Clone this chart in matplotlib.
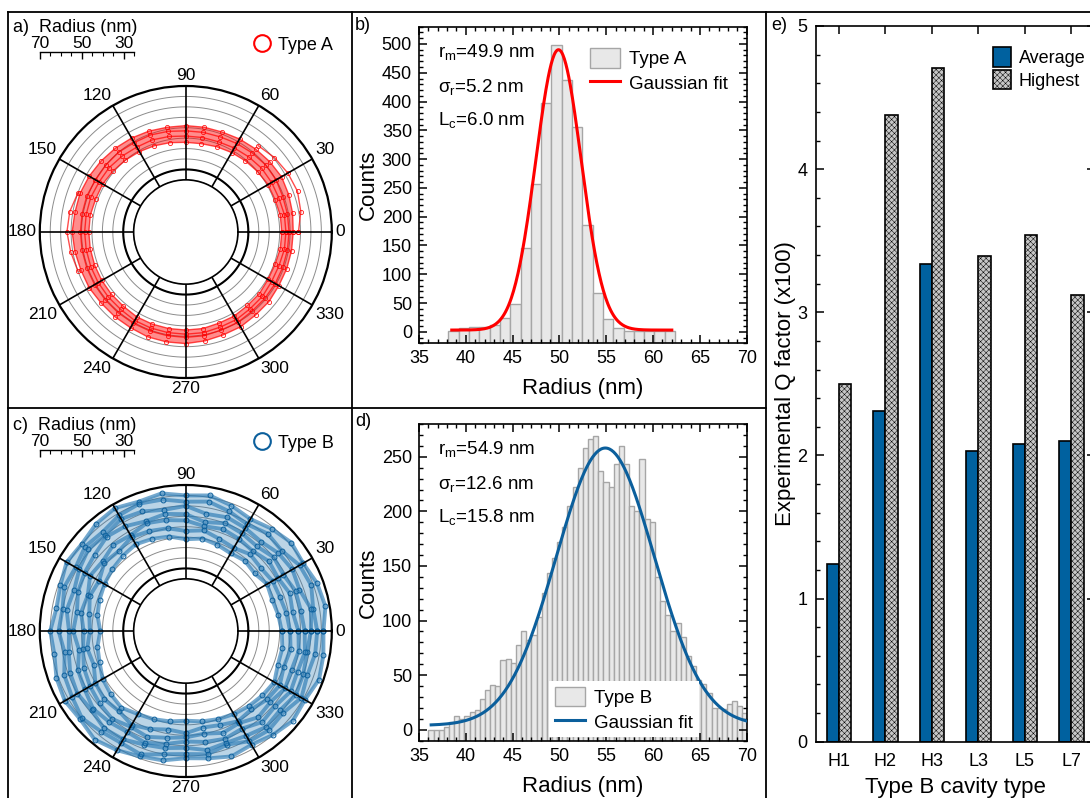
import numpy as np
import matplotlib

matplotlib.use("Agg")
import matplotlib.pyplot as plt
from matplotlib.lines import Line2D
from matplotlib.ticker import MultipleLocator

plt.rcParams.update({
    "font.family": ["Liberation Sans", "DejaVu Sans"],
    "mathtext.fontset": "custom",
    "mathtext.rm": "Liberation Sans",
    "mathtext.it": "Liberation Sans:italic",
    "hatch.linewidth": 0.35,
    "hatch.color": "#8a8a8a",
    "axes.linewidth": 1.2,
})

W, H = 1090, 798
RED = "#ff0000"
BLUE_PTS = "#2a7ab4"
BLUE_FIT = "#0b5f9c"
BLUE_BAR = "#00619f"
BAR_FACE = "#e8e8e8"
BAR_EDGE = "#a6a6a6"

# ---------------------------------------------------------------- data
# polar traces: radius (nm) at every 10 degrees, read off panels a) and c)
THETA_DEG = list(range(0, 360, 10))
nan = np.nan
A_TRACES = [
    [46, 46, 45.5, 45.5, 45, 44.5, 44, 43.5, 43, 43, 43.5, 44, 44.5, 45, 45.5, 46, 46, 46.5,
     46.5, 46.5, 46.5, 46.5, 46.5, 46.5, 47, 47, 47, 47, 47, 46.5, 46.5, 46, 46, 45.5, 45.5, 46],
    [48, 48, 47.5, 47.5, 47.5, 47, 46.5, 46, 46, 46, 46.5, 47, 47, 47.5, 48, 48, 48.5, 48.5,
     48.5, 48.5, 48.5, 48.5, 48.5, 48.5, 49, 49, 49, 49, 49, 48.5, 48.5, 48, 48, 47.5, 47.5, 48],
    [49.5, 49.5, 49.5, 50, 50, 49.5, 49, 48.5, 48.5, 48.5, 49, 49.5, 49.5, 50, 50, 50, 50.5, 50.5,
     50.5, 50.5, 50.5, 50.5, 50.5, 50.5, 50.5, 50.5, 50.5, 50.5, 50.5, 50, 50, 49.5, 49.5, 49.5, 49.5, 49.5],
    [51.5, 52, 52.5, 53, 52.5, 52, 51.5, 51, 51, 51, 51, 51.5, 52, 52.5, 53, 53.5, 54, 54,
     54.5, 54, 53.5, 53.5, 53, 53, 53, 53.5, 53.5, 53.5, 53, 52.5, 52.5, 52, 52, 51.5, 51.5, 51.5],
    [54, 56, 57, 56.5, 55.5, 54, nan, nan, nan, nan, nan, nan, nan, nan, nan, nan, 55, 56.5,
     57, 56, 55, nan, nan, nan, nan, nan, nan, nan, nan, nan, nan, nan, nan, nan, nan, nan],
]
B_TRACES = [
    [66, 68, 67, 65, 66, 64, 62, 64, 66, 65, 67, 66, 68, 67, 65, 66, 64, 63,
     65, 64, 66, 67, 66, 68, 66, 64, 63, 61, 62, 64, 63, 65, 67, 66, 68, 67],
    [63, 62, 64, 63, 60, 61, 59, 61, 63, 62, 64, 65, 64, 62, 63, 61, 62, 60,
     61, 59, 62, 63, 65, 63, 62, 63, 60, 59, 60, 58, 61, 62, 61, 64, 62, 63],
    [60, 61, 58, 59, 58, 56, 57, 58, 57, 60, 59, 61, 62, 60, 61, 59, 57, 58,
     56, 57, 59, 60, 59, 61, 60, 58, 57, 56, 58, 57, 58, 60, 59, 61, 60, 59],
    [57, 56, 56, 54, 55, 53, 54, 55, 53, 56, 57, 56, 58, 59, 57, 56, 55, 53,
     54, 52, 55, 56, 58, 57, 56, 57, 55, 53, 54, 55, 54, 57, 56, 58, 57, 58],
    [54, 52, 53, 51, 52, 50, 51, 52, 51, 53, 54, 55, 53, 54, 52, 53, 50, 51,
     49, 50, 52, 53, 54, 55, 53, 54, 52, 51, 50, 52, 51, 54, 53, 55, 54, 55],
    [50, 49, 48, 48, 47, 48, 46, 47, 49, 48, 50, 51, 52, 50, 51, 48, 49, 47,
     46, 48, 47, 50, 51, 50, 52, 50, 48, 49, 47, 48, 50, 49, 51, 52, 50, 51],
    [46, 45, 44, 45, 43, 44, 43, 44, 45, 44, 46, 47, 48, 47, 46, 45, 44, 43,
     41, 43, 44, 46, 47, 48, 46, 45, 44, 43, 44, 45, 46, 47, 48, 49, 47, 47],
]

# histogram b) (type A): bins of 1.1 nm starting at 38.15 nm
A_BIN_START, A_BIN_WIDTH = 38.15, 1.1
A_COUNTS = [1, 6, 9, 9, 12, 24, 49, 146, 256, 398, 499, 438, 356, 185, 68, 23, 6, 2, 2, 1, 1, 1]
A_FIT = dict(xc=49.9, w=2.42, amp=487, y0=3, x0=38.5, x1=62.0)

# histogram d) (type B): bins of 0.55 nm starting at 36.0 nm
B_BIN_START, B_BIN_WIDTH = 36.0, 0.55
B_COUNTS = [0, 0, 0, 3, 7, 13, 10, 13, 16, 18, 28, 36, 41, 40, 64, 65, 61, 78, 90, 82,
            87, 103, 125, 144, 157, 172, 186, 205, 222, 240, 258, 266, 269, 237, 227, 222,
            243, 260, 243, 205, 200, 248, 193, 190, 140, 118, 105, 90, 98, 85, 68, 58,
            46, 42, 34, 20, 20, 19, 24, 26, 22, 15]
B_FIT = dict(xc=54.9, w=5.25, amp=254, y0=4, x0=36.3, x1=70.0)

# panel e)
CAVITIES = ["H1", "H2", "H3", "L3", "L5", "L7"]
Q_AVERAGE = [1.24, 2.31, 3.34, 2.03, 2.08, 2.10]
Q_HIGHEST = [2.50, 4.38, 4.71, 3.39, 3.54, 3.12]


def px(x0, y0, x1, y1):
    """figure-fraction rect from pixel box (top-left origin)"""
    return [x0 / W, 1 - y1 / H, (x1 - x0) / W, (y1 - y0) / H]


fig = plt.figure(figsize=(W / 100, H / 100), dpi=100)


# ---------------------------------------------------------------- polar panels
def polar_panel(box, traces, color, kind):
    ax = fig.add_axes(box, projection="polar")
    ax.set_rlim(25, 70)
    ax.set_rorigin(0)
    ax.grid(False)
    ax.set_xticks([])
    ax.set_yticks([])
    ax.spines["polar"].set_linewidth(1.6)
    ax.spines["inner"].set_visible(False)
    tc = np.linspace(0, 2 * np.pi, 361)
    for r in range(25, 70, 5):
        ax.plot(tc, np.full_like(tc, r), color="#8c8c8c", lw=0.7, zorder=1)
    th = np.deg2rad(THETA_DEG + [THETA_DEG[0]])
    # band spanned by innermost / outermost trace
    hi_tr = traces[3] if kind == "A" else traces[0]
    lo_tr = traces[0] if kind == "A" else traces[-1]
    lo = np.array(list(lo_tr) + [lo_tr[0]], float)
    hi = np.array(list(hi_tr) + [hi_tr[0]], float)
    ax.fill(np.concatenate([th, th[::-1]]), np.concatenate([hi, lo[::-1]]),
            color=color, alpha=0.45 if kind == "A" else 0.32, lw=0, zorder=1.5)
    for tr in traces:
        rr = list(tr) + [tr[0]]
        if kind == "A":
            ax.plot(th, rr, color=color, lw=1.0, alpha=0.7, zorder=2)
            ax.plot(th, rr, ls="none", marker="o", ms=3, mfc="none", mec=color,
                    mew=0.6, alpha=0.9, zorder=2)
        else:
            ax.plot(th, rr, color=color, lw=2.8, alpha=0.65, zorder=2)
            ax.plot(th, rr, ls="none", marker="o", ms=3.5, mfc="none", mec=BLUE_FIT,
                    mew=0.7, zorder=2)
    ax.plot(tc, np.full_like(tc, 30), color="black", lw=1.5, zorder=3)
    for a in range(0, 360, 30):
        t = np.deg2rad(a)
        ax.plot([t, t], [25, 70], color="black", lw=1.2, zorder=3)
        c, s = np.cos(t), np.sin(t)
        ha = "center" if abs(c) < 0.1 else ("left" if c > 0 else "right")
        va = "center" if abs(s) < 0.1 else ("bottom" if s > 0 else "top")
        ax.text(t, 71.5, str(a), ha=ha, va=va, fontsize=12.5, clip_on=False)
    return ax


def radius_bar(y_px):
    bx = fig.add_axes(px(40, y_px - 8, 134, y_px))
    bx.set_xlim(70, 25)
    bx.set_ylim(0, 1)
    for k in ("left", "right", "bottom"):
        bx.spines[k].set_visible(False)
    bx.spines["top"].set_linewidth(1.0)
    bx.set_yticks([])
    bx.xaxis.set_ticks_position("top")
    bx.xaxis.set_label_position("top")
    bx.set_xticks([70, 50, 30])
    bx.xaxis.set_minor_locator(MultipleLocator(5))
    bx.tick_params(axis="x", which="major", direction="in", length=5, width=1,
                   pad=1, labelsize=12.5)
    bx.tick_params(axis="x", which="minor", direction="in", length=3, width=0.8)
    bx.patch.set_visible(False)


def type_legend(ax, label, color, y_px):
    ax.legend(handles=[Line2D([], [], ls="none", marker="o", ms=12, mfc="none", mec=color, mew=1.5)],
              labels=[label], loc="center left", bbox_to_anchor=(254 / W, 1 - y_px / H),
              bbox_transform=fig.transFigure, frameon=False, fontsize=13, handlelength=0.9,
              handletextpad=0.45, borderaxespad=0, borderpad=0)


pa = polar_panel(px(39.8, 86, 331.8, 378), A_TRACES, RED, "A")
radius_bar(60)
fig.text(13 / W, 1 - 27 / H, "a)  Radius (nm)", fontsize=13, va="center")
type_legend(pa, "Type A", RED, 45)

pc = polar_panel(px(39.8, 485, 331.8, 777), B_TRACES, BLUE_PTS, "B")
radius_bar(458)
fig.text(13 / W, 1 - 426 / H, "c)  Radius (nm)", fontsize=13, va="center")
type_legend(pc, "Type B", BLUE_FIT, 443)


# ---------------------------------------------------------------- histograms
def style_hist(ax, ylim, ymajor, yminor):
    ax.set_xlim(35, 70)
    ax.set_ylim(*ylim)
    ax.xaxis.set_major_locator(MultipleLocator(5))
    ax.xaxis.set_minor_locator(MultipleLocator(1))
    ax.yaxis.set_major_locator(MultipleLocator(ymajor))
    ax.yaxis.set_minor_locator(MultipleLocator(yminor))
    ax.tick_params(which="both", direction="in", top=True, right=True, labelsize=13)
    ax.tick_params(which="major", length=6, width=1.1, pad=5)
    ax.tick_params(which="minor", length=3, width=1.0)
    ax.set_xlabel("Radius (nm)", fontsize=16, labelpad=8)
    ax.set_ylabel("Counts", fontsize=16, labelpad=2)


def hist_panel(box, start, width, counts, fit, color, ylim, ymajor, yminor, label):
    ax = fig.add_axes(box)
    edges = start + width * np.arange(len(counts) + 1)
    centers = (edges[:-1] + edges[1:]) / 2
    cnt = np.array(counts, float)
    bars = ax.bar(centers, cnt - ylim[0], width, bottom=ylim[0], color=BAR_FACE,
                  edgecolor=BAR_EDGE, lw=1.0, zorder=1)
    xf = np.linspace(fit["x0"], fit["x1"], 300)
    yf = fit["y0"] + fit["amp"] * np.exp(-(xf - fit["xc"]) ** 2 / (2 * fit["w"] ** 2))
    (ln,) = ax.plot(xf, yf, color=color, lw=2.2, zorder=3)
    style_hist(ax, ylim, ymajor, yminor)
    return ax, [bars, ln], [label, "Gaussian fit"]


pb, hb, lb = hist_panel(px(419, 26.7, 746.7, 343.3), A_BIN_START, A_BIN_WIDTH, A_COUNTS, A_FIT,
                        RED, (-20, 530), 50, 10, "Type A")
pb.legend(hb, lb, loc="upper right", bbox_to_anchor=(0.995, 0.985), frameon=False, fontsize=13.5,
          handlelength=1.6, handleheight=1.2, handletextpad=0.5, labelspacing=0.25)
for txt, yy in [(r"r$_\mathrm{m}$=49.9 nm", 52), (r"σ$_\mathrm{r}$=5.2 nm", 87),
                (r"L$_\mathrm{c}$=6.0 nm", 120)]:
    fig.text(438 / W, 1 - yy / H, txt, fontsize=13.5, va="center")
fig.text(355 / W, 1 - 26 / H, "b)", fontsize=13, va="center")

pd_, hd, ld = hist_panel(px(419, 424, 746.7, 740.7), B_BIN_START, B_BIN_WIDTH, B_COUNTS, B_FIT,
                         BLUE_FIT, (-10, 280), 50, 10, "Type B")
leg = pd_.legend(hd, ld, loc="upper left", bbox_to_anchor=(540 / W, 1 - 672 / H),
                 bbox_transform=fig.transFigure, frameon=True, fancybox=False, fontsize=13.5,
                 handlelength=1.6, handleheight=1.2, handletextpad=0.5, labelspacing=0.25,
                 borderpad=0.3)
leg.get_frame().set_edgecolor("none")
leg.get_frame().set_alpha(1)
leg.set_zorder(5)
for txt, yy in [(r"r$_\mathrm{m}$=54.9 nm", 449), (r"σ$_\mathrm{r}$=12.6 nm", 484),
                (r"L$_\mathrm{c}$=15.8 nm", 517)]:
    fig.text(438 / W, 1 - yy / H, txt, fontsize=13.5, va="center")
fig.text(355 / W, 1 - 421 / H, "d)", fontsize=13, va="center")

# ---------------------------------------------------------------- panel e
pe = fig.add_axes(px(815.7, 26, 1094.7, 741.7))
x = np.arange(1, len(CAVITIES) + 1)
bw = 0.26
pe.bar(x - bw / 2, Q_AVERAGE, bw, color=BLUE_BAR, edgecolor="black", lw=1.2, label="Average")
pe.bar(x + bw / 2, Q_HIGHEST, bw, color="#c6c6c6", edgecolor="black", lw=1.2, hatch="xxxxxx",
       label="Highest")
pe.set_xlim(0.5, len(CAVITIES) + 0.5)
pe.set_ylim(0, 5)
pe.set_xticks(x)
pe.set_xticklabels(CAVITIES)
pe.yaxis.set_major_locator(MultipleLocator(1))
pe.yaxis.set_minor_locator(MultipleLocator(0.2))
pe.tick_params(axis="y", which="both", direction="in", right=True, labelsize=13, pad=6)
pe.tick_params(axis="y", which="major", length=6, width=1.1)
pe.tick_params(axis="y", which="minor", length=3, width=1.0)
pe.tick_params(axis="x", direction="in", bottom=False, top=True, length=6, width=1.1,
               labelsize=13, pad=8)
pe.set_xlabel("Type B cavity type", fontsize=16, labelpad=5)
pe.set_ylabel("Experimental Q factor (x100)", fontsize=16, labelpad=1)
pe.legend(loc="upper left", bbox_to_anchor=(986 / W, 1 - 40 / H), bbox_transform=fig.transFigure,
          frameon=False, fontsize=13, handlelength=1.0, handleheight=1.3, handletextpad=0.4,
          labelspacing=0.15, borderaxespad=0)
fig.text(771 / W, 1 - 26 / H, "e)", fontsize=13, va="center")

# ---------------------------------------------------------------- panel frames
def frame(x0, y0, x1, y1):
    fig.add_artist(Line2D([x0 / W, x1 / W], [1 - y0 / H, 1 - y1 / H], color="black", lw=1.3))


frame(7.5, 12.3, 1090, 12.3)
frame(7.5, 12.3, 7.5, 798)
frame(351.7, 12.3, 351.7, 798)
frame(766, 12.3, 766, 798)
frame(7.5, 408, 766, 408)

fig.savefig("out.png", dpi=100)
